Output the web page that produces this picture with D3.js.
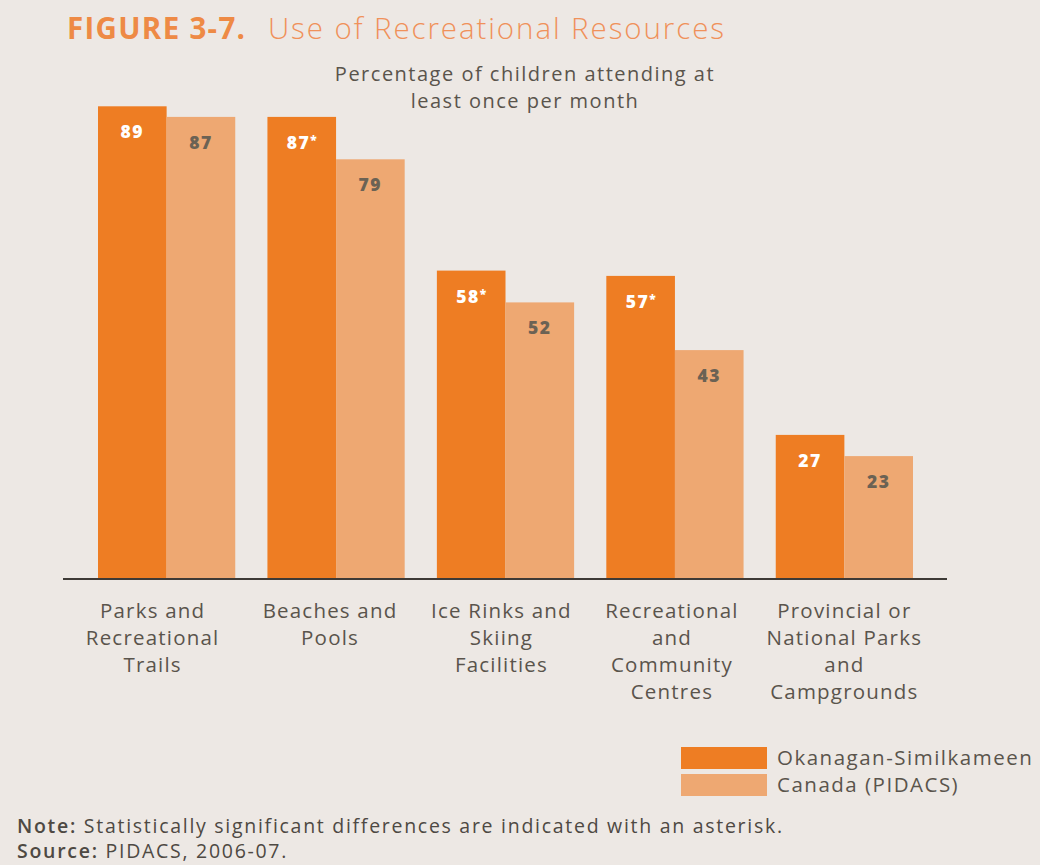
<!DOCTYPE html>
<html>
<head>
<meta charset="utf-8">
<script src="https://cdn.jsdelivr.net/npm/d3@7"></script>
<style>
  html, body { margin: 0; padding: 0; background: #EDE8E4; }
  svg { display: block; }
</style>
</head>
<body>
<svg id="chart" width="1040" height="865"></svg>
<script>
// Recreational resource use: share of children attending at least once per month
const categories = [
  ["Parks and", "Recreational", "Trails"],
  ["Beaches and", "Pools"],
  ["Ice Rinks and", "Skiing", "Facilities"],
  ["Recreational", "and", "Community", "Centres"],
  ["Provincial or", "National Parks", "and", "Campgrounds"]
];
const seriesNames = ["Okanagan-Similkameen", "Canada (PIDACS)"];
const okanagan = [89, 87, 58, 57, 27];
const canada = [87, 79, 52, 43, 23];
const significant = [false, true, true, true, false];

const colors = ["#EE7D23", "#EEA872"];
const labelColors = ["#FFFFFF", "#6B6254"];
const textColor = "#5A544C";

const svg = d3.select("#chart");
const font = "'Open Sans', 'Noto Sans', sans-serif";

const baseline = 578;
const y = d3.scaleLinear().domain([0, 100]).range([baseline, 48]);
const x0 = d3.scaleBand().domain(d3.range(categories.length))
  .range([98, 913]).paddingInner(0.19).paddingOuter(0);
const x1 = d3.scaleBand().domain([0, 1]).range([0, x0.bandwidth()]);

// Title
const title = svg.append("text").attr("x", 67).attr("y", 39)
  .attr("font-family", font).attr("font-size", 29.5).attr("fill", "#EE8A45");
title.append("tspan").attr("font-weight", 700).attr("textLength", 178).text("FIGURE 3-7.");
title.append("tspan").attr("x", 268).attr("font-weight", 300).attr("fill", "#F0915A")
  .attr("textLength", 456).text("Use of Recreational Resources");

// Subtitle
svg.append("text").attr("x", 525).attr("y", 81).attr("text-anchor", "middle")
  .attr("font-family", font).attr("font-size", 20).attr("fill", textColor)
  .attr("letter-spacing", 1.5)
  .selectAll("tspan").data(["Percentage of children attending at", "least once per month"])
  .join("tspan").attr("x", 525).attr("dy", (d, i) => i ? 27 : 0).text(d => d);

const rows = categories.map((c, i) => ({
  i, values: [okanagan[i], canada[i]]
}));

const groups = svg.append("g").selectAll("g").data(rows).join("g")
  .attr("transform", d => `translate(${x0(d.i)},0)`);

groups.selectAll("rect").data(d => d.values.map((v, s) => ({ v, s })))
  .join("rect")
  .attr("x", d => x1(d.s))
  .attr("width", x1.bandwidth())
  .attr("y", d => y(d.v))
  .attr("height", d => baseline - y(d.v))
  .attr("fill", d => colors[d.s]);

// Value labels inside the bars
groups.each(function (row) {
  const g = d3.select(this);
  row.values.forEach((v, s) => {
    const t = g.append("text")
      .attr("x", x1(s) + x1.bandwidth() / 2)
      .attr("y", y(v) + 32)
      .attr("text-anchor", "middle")
      .attr("font-family", font).attr("font-weight", 800)
      .attr("font-size", 17.5).attr("letter-spacing", 1.5)
      .attr("fill", labelColors[s]);
    t.append("tspan").text(v);
    if (s === 0 && significant[row.i]) {
      t.append("tspan").attr("font-size", 12).attr("dy", -5).attr("letter-spacing", 0).text("*");
    }
  });
});

// Baseline
svg.append("line").attr("x1", 63).attr("x2", 947)
  .attr("y1", baseline + 1).attr("y2", baseline + 1)
  .attr("stroke", "#3E3A36").attr("stroke-width", 2);

// Category labels (first groups sit slightly left of their bar pair)
const labelNudge = [-14, -6, -4, -3, 0];
svg.append("g").selectAll("text").data(categories).join("text")
  .attr("text-anchor", "middle")
  .attr("font-family", font).attr("font-size", 20.5).attr("fill", textColor)
  .attr("letter-spacing", 1.2)
  .each(function (lines, i) {
    const cx = x0(i) + x0.bandwidth() / 2 + labelNudge[i];
    d3.select(this).selectAll("tspan").data(lines).join("tspan")
      .attr("x", cx).attr("y", (d, k) => 618 + k * 27).text(d => d);
  });

// Legend
const legend = svg.append("g").selectAll("g").data(seriesNames).join("g")
  .attr("transform", (d, i) => `translate(681,${747 + i * 27})`);
legend.append("rect").attr("width", 86).attr("height", 22)
  .attr("fill", (d, i) => colors[i]);
legend.append("text").attr("x", 96).attr("y", 18)
  .attr("font-family", font).attr("font-size", 20.5).attr("fill", textColor)
  .attr("letter-spacing", 1.5)
  .text(d => d);

// Notes
const notes = [["Note:", " Statistically significant differences are indicated with an asterisk."],
               ["Source:", " PIDACS, 2006-07."]];
svg.append("g").selectAll("text").data(notes).join("text")
  .attr("x", 17).attr("y", (d, i) => 833 + i * 25)
  .attr("font-family", font).attr("font-size", 19.5).attr("fill", "#4E4943")
  .attr("letter-spacing", 1.72)
  .each(function (d) {
    const t = d3.select(this);
    t.append("tspan").attr("font-weight", 600).text(d[0]);
    t.append("tspan").text(d[1]);
  });
</script>
</body>
</html>
